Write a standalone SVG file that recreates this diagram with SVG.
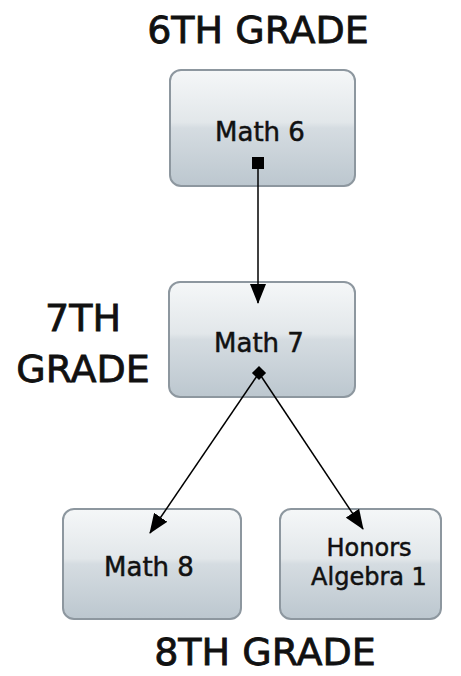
<svg xmlns="http://www.w3.org/2000/svg" width="461" height="676" viewBox="0 0 461 676">
<style>
.box{stroke:#8d979f;stroke-width:2;fill:url(#g)}
.t{font-family:"DejaVu Sans","Liberation Sans",sans-serif;font-size:26px;fill:#111;stroke:#111;stroke-width:0.5;text-anchor:middle}
.h{font-family:"DejaVu Sans","Liberation Sans",sans-serif;font-size:38px;fill:#111;stroke:#111;stroke-width:0.8;text-anchor:middle}
.c{stroke:#000;stroke-width:1.5;fill:none}
</style>
<defs>
<linearGradient id="g" x1="0" y1="0" x2="0" y2="1">
<stop offset="0" stop-color="#f5f7f8"/>
<stop offset="0.45" stop-color="#e2e7ea"/>
<stop offset="0.5" stop-color="#d5dce1"/>
<stop offset="1" stop-color="#bcc7cf"/>
</linearGradient>
<marker id="arr" viewBox="0 0 20 16" refX="19" refY="8" markerWidth="20" markerHeight="16" markerUnits="userSpaceOnUse" orient="auto">
<path d="M0,0 L20,8 L0,16 Z" fill="#000"/>
</marker>
<marker id="sq" viewBox="0 0 12 12" refX="6" refY="6" markerWidth="12" markerHeight="12" markerUnits="userSpaceOnUse" orient="0">
<rect x="0" y="0" width="12" height="12" fill="#000"/>
</marker>
<marker id="dm" viewBox="0 0 12 12" refX="6" refY="6" markerWidth="12" markerHeight="12" markerUnits="userSpaceOnUse" orient="45">
<rect x="1" y="1" width="10" height="10" fill="#000"/>
</marker>
</defs>
<text class="h" x="258" y="43">6TH GRADE</text>
<text class="h" x="83" y="331">7TH</text>
<text class="h" x="83" y="382">GRADE</text>
<text class="h" x="265" y="665">8TH GRADE</text>
<g id="math6">
<rect class="box" x="170" y="70" width="185" height="116" rx="11"/>
<text class="t" x="260" y="141">Math 6</text>
</g>
<g id="math7">
<rect class="box" x="169" y="282" width="186" height="115" rx="11"/>
<text class="t" x="259" y="352">Math 7</text>
</g>
<g id="math8">
<rect class="box" x="63" y="509" width="178" height="110" rx="11"/>
<text class="t" x="149" y="576">Math 8</text>
</g>
<g id="honors">
<rect class="box" x="280" y="509" width="161" height="110" rx="11"/>
<text class="t" x="369" y="556" style="font-size:24px">Honors</text>
<text class="t" x="369" y="585" style="font-size:24px">Algebra 1</text>
</g>
<g id="connectors">
<path class="c" d="M258,163 L258,303" marker-start="url(#sq)" marker-end="url(#arr)"/>
<path class="c" d="M259,373 L150,533" marker-start="url(#dm)" marker-end="url(#arr)"/>
<path class="c" d="M259,373 L363,529" marker-end="url(#arr)"/>
</g>
</svg>
